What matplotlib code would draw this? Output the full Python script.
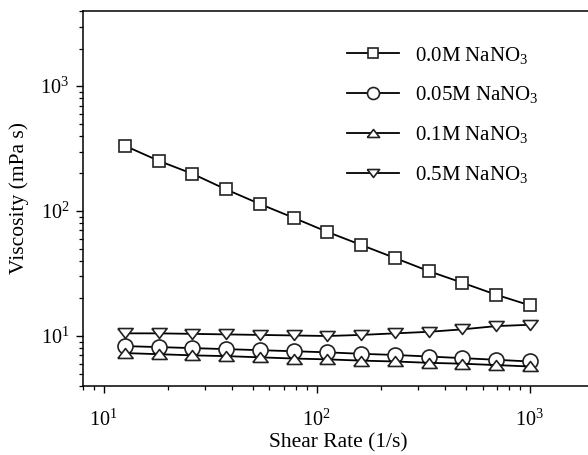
import numpy as np
import matplotlib
matplotlib.use("Agg")
import matplotlib.pyplot as plt
from matplotlib.ticker import LogLocator, NullFormatter

plt.rcParams['font.family'] = ['Liberation Serif', 'DejaVu Serif']
plt.rcParams['mathtext.fontset'] = 'custom'
plt.rcParams['mathtext.rm'] = 'Liberation Serif'
plt.rcParams['mathtext.default'] = 'regular'

# shear rate (1/s)
shear_rate = [12.6, 18.1, 26.1, 37.6, 54.1, 77.9, 112, 162, 233, 335, 482, 695, 1000]

# viscosity (mPa s)
visc_00 = [333, 253, 199, 149, 114, 88.4, 68.2, 53.5, 42.1, 33.1, 26.7, 21.4, 17.6]
visc_005 = [8.3, 8.15, 8.0, 7.85, 7.7, 7.55, 7.4, 7.2, 7.05, 6.85, 6.65, 6.45, 6.25]
visc_01 = [7.3, 7.15, 7.0, 6.9, 6.75, 6.6, 6.5, 6.35, 6.25, 6.1, 6.0, 5.85, 5.7]
visc_05 = [10.5, 10.5, 10.4, 10.3, 10.2, 10.1, 10.0, 10.2, 10.5, 10.8, 11.3, 12.0, 12.3]

labels = ['0.0M NaNO$_3$', '0.05M NaNO$_3$', '0.1M NaNO$_3$', '0.5M NaNO$_3$']

tri_up = [(-1, -0.65), (1, -0.65), (0, 0.65), (-1, -0.65)]
tri_dn = [(-1, 0.65), (1, 0.65), (0, -0.65), (-1, 0.65)]

fig = plt.figure(figsize=(5.88, 4.55), dpi=100)
ax = fig.add_axes([83/588, 69.3/455, 511/588, 374.7/455])

series = [visc_00, visc_005, visc_01, visc_05]
markers = ['s', 'o', tri_up, tri_dn]
sizes = [8.8, 10.8, 11, 11]
for y, mk, ms, lab in zip(series, markers, sizes, labels):
    ax.plot(shear_rate, y, color='black', lw=1.3, marker=mk, ms=ms,
            mfc='white', mec='#222222', mew=1.2, label=lab)

ax.set_xscale('log')
ax.set_yscale('log')
ax.set_xlim(8, 2000)
ax.set_ylim(4, 4000)

ax.yaxis.set_major_locator(LogLocator(base=10, numticks=10))
ax.yaxis.set_minor_locator(LogLocator(base=10, subs=np.arange(2, 10), numticks=20))
ax.yaxis.set_minor_formatter(NullFormatter())
ax.xaxis.set_minor_locator(LogLocator(base=10, subs=np.arange(2, 10), numticks=20))
ax.xaxis.set_minor_formatter(NullFormatter())

ax.spines['right'].set_visible(False)
for s in ['left', 'bottom', 'top']:
    ax.spines[s].set_linewidth(1.1)
ax.tick_params(which='major', direction='out', length=5, width=1.0, labelsize=14.5)
ax.tick_params(which='minor', direction='out', length=3, width=0.9)
ax.tick_params(axis='x', pad=12)
ax.tick_params(axis='y', pad=5)

ax.set_xlabel('Shear Rate (1/s)', fontsize=15.5, labelpad=2)
ax.set_ylabel('Viscosity (mPa s)', fontsize=15.5, labelpad=8)

leg = ax.legend(loc='upper left', bbox_to_anchor=(0.48, 0.96), frameon=False,
                fontsize=15, handlelength=2.5, labelspacing=0.9,
                handletextpad=0.75, markerscale=0.8)

fig.savefig('out.png', dpi=100)
